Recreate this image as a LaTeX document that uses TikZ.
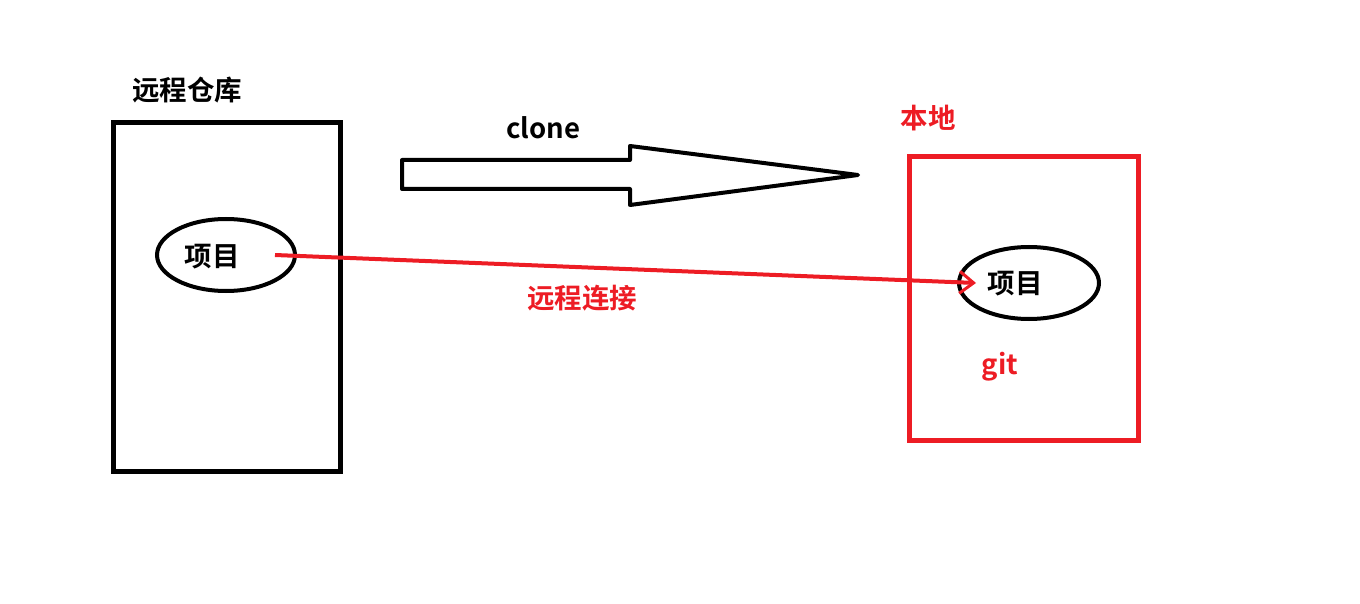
\documentclass[tikz,border=0pt]{standalone}
\usepackage{fontspec}
\setmainfont{Noto Sans CJK SC}[BoldFont={* Bold}]
\newfontfamily\cjkb{Noto Sans CJK SC Bold}
\usetikzlibrary{shapes.geometric,arrows.meta}
\definecolor{pred}{HTML}{ED1C24}
\begin{document}
\begin{tikzpicture}[x=1pt,y=-1pt,
  lbl/.style={font=\cjkb\fontsize{27.5}{30}\selectfont, inner sep=0pt},
  box/.style={draw, line width=5pt, minimum width=227pt, minimum height=348pt, inner sep=0pt},
  proj/.style={draw, ellipse, line width=4pt, minimum width=138pt, minimum height=72pt, inner sep=0pt},
]
\useasboundingbox (0,0) rectangle (1360,604);
% remote
\node[box] (remote) at (226.5,297) {};
\node[lbl] (remotelbl) at (187,90) {远程仓库};
\node[proj] (rproj) at (226,255) {};
\node[lbl] (rprojlbl) at (212,257) {项目};
% local
\node[box, draw=pred, minimum width=229pt, minimum height=283pt] (local) at (1023.5,298.5) {};
\node[lbl, text=pred] (locallbl) at (928,118) {本地};
\node[proj, minimum width=140pt] (lproj) at (1029,283) {};
\node[lbl] (lprojlbl) at (1015,284) {项目};
\node[lbl, text=pred] (git) at (1000,367) {git};
% clone arrow
\coordinate (ctip) at (858,175);
\draw[line width=4pt, line join=round, fill=white]
  (402,160) -- (630,160) -- (630,146) -- (ctip) -- (630,205) -- (630,189) -- (402,189) -- cycle;
\node[lbl] (clonelbl) at (543,128) {clone};
% red connection
\coordinate (rstart) at (275,255);
\coordinate (rend) at (976,283);
\draw[pred, line width=4pt, -{Straight Barb[length=14pt,width=22pt,line width=3pt]}] (rstart) -- (rend);
\node[lbl, text=pred] (connlbl) at (582,298) {远程连接};
\end{tikzpicture}
\end{document}
